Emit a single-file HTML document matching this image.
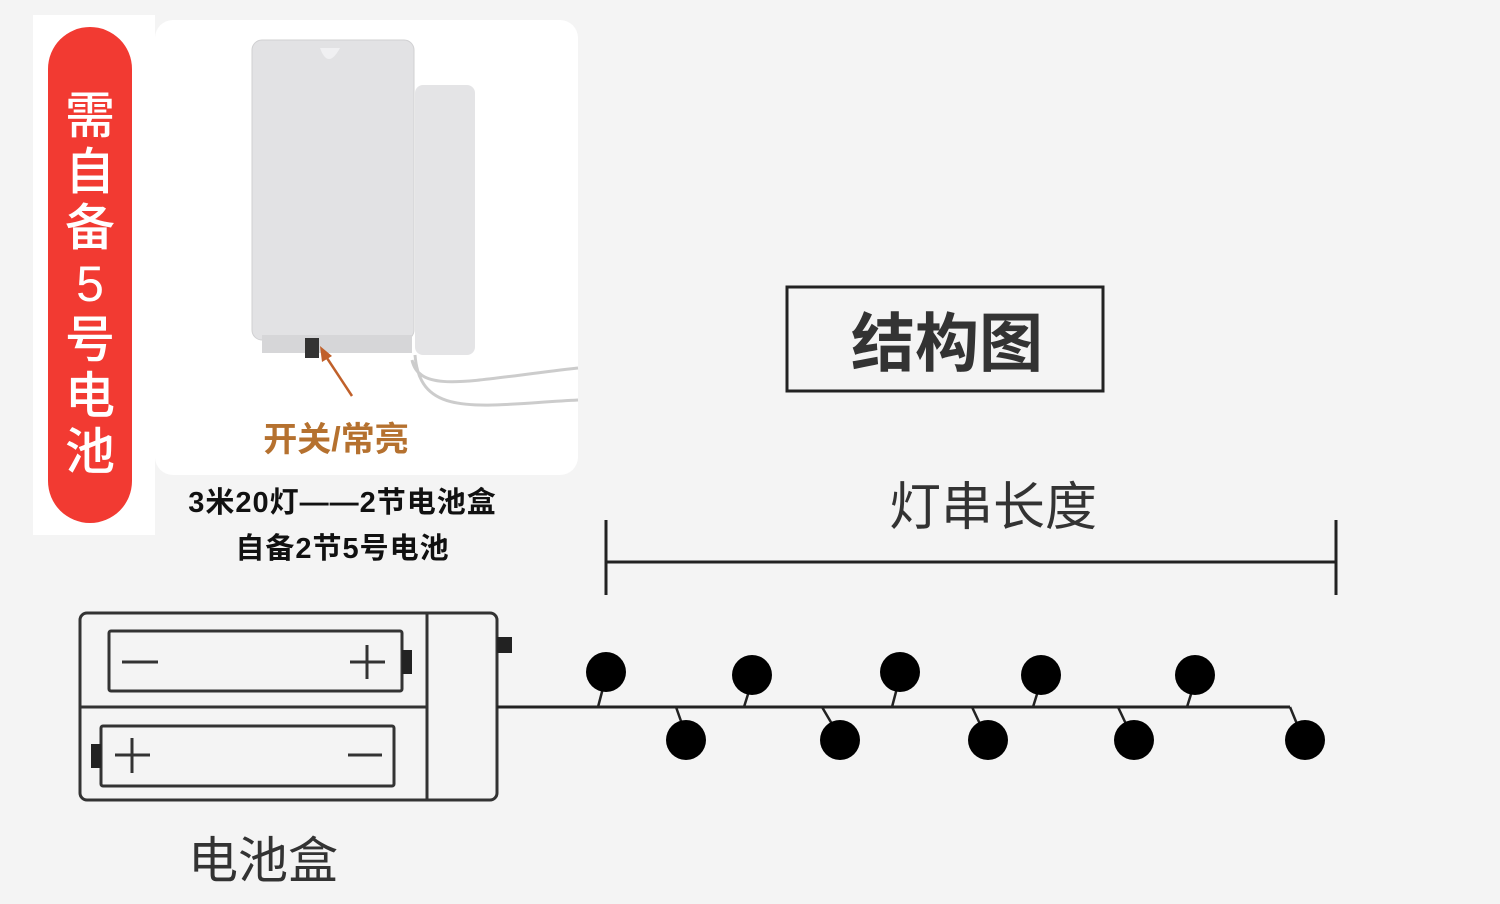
<!DOCTYPE html><html><head><meta charset="utf-8"><style>
body{margin:0;width:1500px;height:904px;background:#f4f4f4;overflow:hidden;position:relative;font-family:"Liberation Sans","Noto Sans CJK SC",sans-serif}
.a{position:absolute}
</style></head><body>
<div class="a" style="left:33px;top:15px;width:122px;height:520px;background:#fff"></div>
<div class="a" style="left:155px;top:20px;width:423px;height:455px;background:#fff;border-radius:18px"></div>
<div class="a" style="left:48px;top:27px;width:84px;height:496px;background:#f23a32;border-radius:42px"></div>
<div class="a" style="left:48px;top:88px;width:84px;color:#fff;font-size:50px;line-height:56px;text-align:center;font-weight:500">需<br>自<br>备<br>5<br>号<br>电<br>池</div>
<svg class="a" style="left:0;top:0" width="1500" height="904">
<rect x="415" y="85" width="60" height="270" rx="8" fill="#e4e4e6"/>
<rect x="252" y="40" width="162" height="300" rx="10" fill="#e2e2e4" stroke="#d0d0d2"/>
<path d="M320 48 Q328 70 340 48" fill="#f0f0f2"/>
<rect x="262" y="335" width="150" height="18" fill="#d6d6d8"/>
<rect x="305" y="338" width="14" height="20" fill="#333"/>
<path d="M412 360 C420 395 470 380 578 368 M415 355 C420 420 480 405 578 400" stroke="#ccc" stroke-width="3" fill="none"/>
<line x1="323" y1="352" x2="352" y2="396" stroke="#c0602a" stroke-width="2.5"/>
<polygon points="320,346 322,362 332,356" fill="#c0602a"/>
<rect x="787" y="287" width="316" height="104" fill="none" stroke="#222" stroke-width="3"/>
<g stroke="#222" stroke-width="3"><line x1="606" y1="520" x2="606" y2="595"/><line x1="1336" y1="520" x2="1336" y2="595"/><line x1="606" y1="562" x2="1336" y2="562"/></g>
<g fill="none" stroke="#333" stroke-width="3">
<rect x="80" y="613" width="417" height="187" rx="7"/>
<line x1="427" y1="613" x2="427" y2="800"/><line x1="80" y1="707" x2="427" y2="707"/>
<rect x="109" y="631" width="293" height="60" rx="2"/>
<rect x="101" y="726" width="293" height="60" rx="2"/>
<line x1="122" y1="662" x2="158" y2="662"/><line x1="350" y1="662" x2="385" y2="662"/><line x1="367" y1="645" x2="367" y2="679"/>
<line x1="115" y1="755" x2="150" y2="755"/><line x1="132" y1="738" x2="132" y2="773"/><line x1="348" y1="755" x2="382" y2="755"/>
<line x1="497" y1="707" x2="1290" y2="707" stroke="#222"/>
</g>
<rect x="402" y="650" width="10" height="24" fill="#222"/><rect x="91" y="744" width="10" height="24" fill="#222"/>
<rect x="497" y="637" width="15" height="16" fill="#222"/>
<g stroke="#222" stroke-width="2.5">
<line x1="598" y1="707" x2="603" y2="688"/><line x1="744" y1="707" x2="749" y2="691"/><line x1="892" y1="707" x2="897" y2="688"/><line x1="1033" y1="707" x2="1038" y2="691"/><line x1="1187" y1="707" x2="1192" y2="691"/>
<line x1="676" y1="707" x2="682" y2="724"/><line x1="822" y1="707" x2="832" y2="724"/><line x1="972" y1="707" x2="980" y2="724"/><line x1="1118" y1="707" x2="1126" y2="724"/><line x1="1290" y1="707" x2="1297" y2="724"/>
</g>
<g fill="#000">
<circle cx="606" cy="672" r="20"/><circle cx="752" cy="675" r="20"/><circle cx="900" cy="672" r="20"/><circle cx="1041" cy="675" r="20"/><circle cx="1195" cy="675" r="20"/>
<circle cx="686" cy="740" r="20"/><circle cx="840" cy="740" r="20"/><circle cx="988" cy="740" r="20"/><circle cx="1134" cy="740" r="20"/><circle cx="1305" cy="740" r="20"/>
</g>
</svg>
<div class="a" style="left:236px;top:412px;width:200px;text-align:center;font-size:34px;color:#b5712f;font-weight:bold">开关/常亮</div>
<div class="a" style="left:140px;top:480px;width:405px;text-align:center;font-size:29px;line-height:46px;font-weight:bold;color:#111;letter-spacing:1px">3米20灯——2节电池盒<br>自备2节5号电池</div>
<div class="a" style="left:787px;top:293px;width:320px;text-align:center;font-size:64px;color:#333;font-weight:bold">结构图</div>
<div class="a" style="left:843px;top:465px;width:300px;text-align:center;font-size:52px;color:#333">灯串长度</div>
<div class="a" style="left:163px;top:821px;width:200px;text-align:center;font-size:50px;color:#333">电池盒</div>
</body></html>
